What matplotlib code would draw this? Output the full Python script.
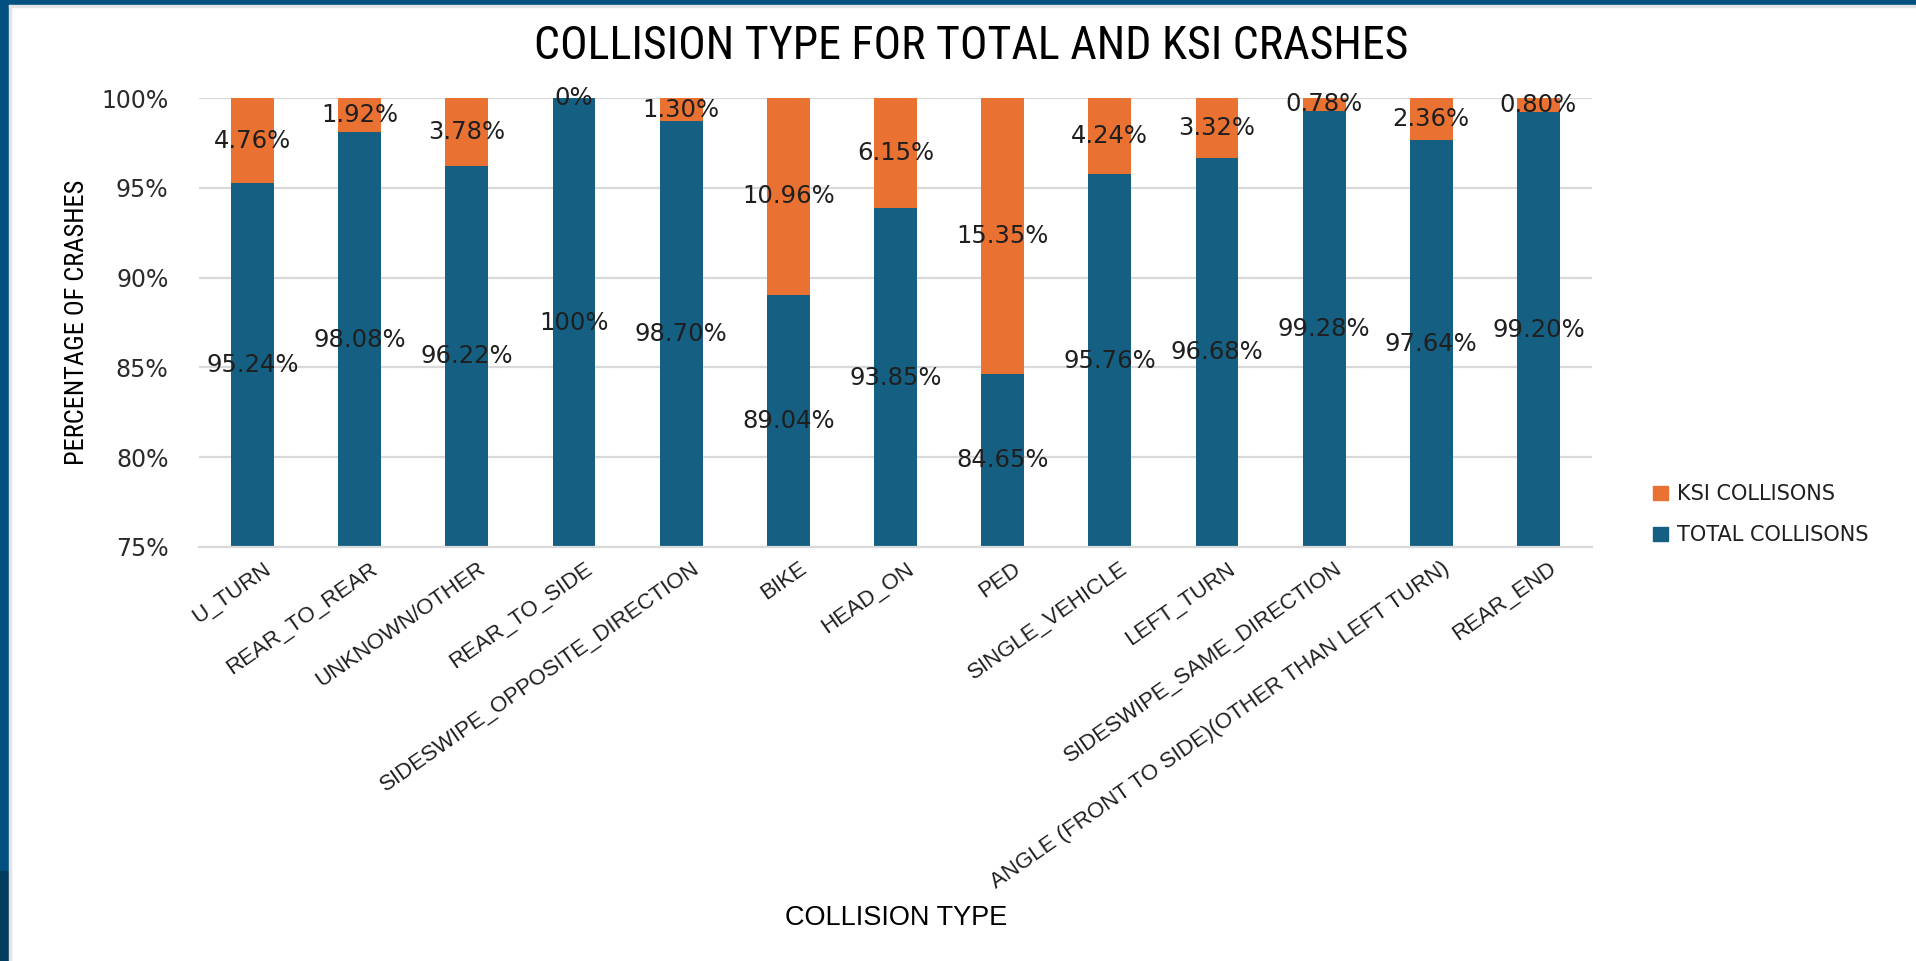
#!/usr/bin/env python3
"""
Stacked percentage bars of total vs KSI collisions by collision type.
"""
import matplotlib
matplotlib.use("Agg")
import matplotlib.pyplot as plt
import matplotlib.transforms as mtransforms
from matplotlib import font_manager
from matplotlib.patches import Rectangle, Patch

collision_types = [
    "U_TURN", "REAR_TO_REAR", "UNKNOWN/OTHER", "REAR_TO_SIDE",
    "SIDESWIPE_OPPOSITE_DIRECTION", "BIKE", "HEAD_ON", "PED",
    "SINGLE_VEHICLE", "LEFT_TURN", "SIDESWIPE_SAME_DIRECTION",
    "ANGLE (FRONT TO SIDE)(OTHER THAN LEFT TURN)", "REAR_END",
]
total_pct = [95.24, 98.08, 96.22, 100, 98.70, 89.04, 93.85, 84.65, 95.76, 96.68, 99.28, 97.64, 99.20]
ksi_pct = [4.76, 1.92, 3.78, 0, 1.30, 10.96, 6.15, 15.35, 4.24, 3.32, 0.78, 2.36, 0.80]
y_ticks = [75, 80, 85, 90, 95, 100]

BLUE = "#156082"
ORANGE = "#E97132"
FRAME = "#02507F"
GRID = "#D9D9D9"
TEXT = "#1F1F1F"


def pick_font(names):
    installed = {f.name for f in font_manager.fontManager.ttflist}
    for n in names:
        if n in installed:
            return n
    return "DejaVu Sans"


narrow = pick_font(["Liberation Sans Narrow", "Arial Narrow", "Roboto Condensed", "Open Sans Condensed"])
arial = pick_font(["Liberation Sans", "Arial"])
wide = "DejaVu Sans"


def fmt(v):
    return f"{v:.0f}%" if float(v).is_integer() else f"{v:.2f}%"


fig = plt.figure(figsize=(19.16, 9.61), dpi=100)
fig.patch.set_facecolor("white")

# frame strips on the top and left edge
W, H = 1916, 961
fig.patches.append(Rectangle((0, 1 - 5 / H), 1, 5 / H, transform=fig.transFigure, color=FRAME, zorder=0))
fig.patches.append(Rectangle((0, 0), 9 / W, 1, transform=fig.transFigure, color=FRAME, zorder=0))
fig.patches.append(Rectangle((0, 0), 9 / W, 90 / H, transform=fig.transFigure, color="#033C5E", zorder=0))
fig.patches.append(Rectangle((9 / W, 0), 2 / W, 1 - 5 / H, transform=fig.transFigure, color="#E3E3E3", zorder=0))
fig.patches.append(Rectangle((9 / W, 1 - 7 / H), 1, 2 / H, transform=fig.transFigure, color="#E3E3E3", zorder=0))

ax = fig.add_axes([199 / W, 1 - 547 / H, (1592 - 199) / W, (547 - 98) / H])
x = list(range(len(collision_types)))
width = 0.4

ax.bar(x, total_pct, width, color=BLUE, zorder=2, label="TOTAL COLLISONS")
ax.bar(x, ksi_pct, width, bottom=total_pct, color=ORANGE, zorder=2, label="KSI COLLISONS")

ax.set_xlim(-0.5, len(collision_types) - 0.5)
ax.set_ylim(75, 100)
ax.set_yticks(y_ticks)
ax.set_yticklabels([f"{t}%" for t in y_ticks], fontsize=17, family=wide, color="#2B2B2B")
ax.tick_params(axis="y", length=0, pad=22)
ax.yaxis.grid(True, color=GRID, linewidth=1.6, zorder=0)
ax.set_axisbelow(True)
for s in ["top", "right", "left"]:
    ax.spines[s].set_visible(False)
ax.spines["bottom"].set_color(GRID)
ax.spines["bottom"].set_linewidth(1.6)

ax.set_xticks(x)
ax.set_xticklabels(collision_types, rotation=35, ha="right", va="top",
                   rotation_mode="anchor", fontsize=16, family=arial, color=TEXT)
ax.tick_params(axis="x", length=0, pad=8)
shift = mtransforms.ScaledTranslation(10 / 100, 0, fig.dpi_scale_trans)
for lbl in ax.get_xticklabels():
    lbl.set_transform(lbl.get_transform() + shift)

# data labels, centred in the visible part of each segment
for i, (t, k) in enumerate(zip(total_pct, ksi_pct)):
    ax.text(i, (75 + t) / 2, fmt(t), ha="center", va="center", fontsize=17.5,
            family=wide, color=TEXT, zorder=3)
    ax.text(i, t + k / 2, fmt(k), ha="center", va="center", fontsize=17.5,
            family=wide, color=TEXT, zorder=3)

fig.text(971 / W, 1 - 46 / H, "COLLISION TYPE FOR TOTAL AND KSI CRASHES",
         ha="center", va="center", fontsize=33, family=narrow, color="black")
fig.text(77 / W, 1 - 322 / H, "PERCENTAGE OF CRASHES", rotation=90,
         ha="center", va="center", fontsize=19, family=narrow, color="black")
fig.text(896 / W, 1 - 918 / H, "COLLISION TYPE", ha="center", va="center",
         fontsize=19.5, family=arial, color="black")

handles = [Patch(color=ORANGE, label="KSI COLLISONS"), Patch(color=BLUE, label="TOTAL COLLISONS")]
fig.legend(handles=handles, loc="upper left", bbox_to_anchor=(1643 / W, 1 - 474 / H),
           frameon=False, handlelength=0.7, handleheight=0.7, handletextpad=0.45,
           labelspacing=1.0, borderpad=0, prop={"family": wide, "size": 15},
           labelcolor=TEXT)

fig.savefig("out.png", dpi=100)
